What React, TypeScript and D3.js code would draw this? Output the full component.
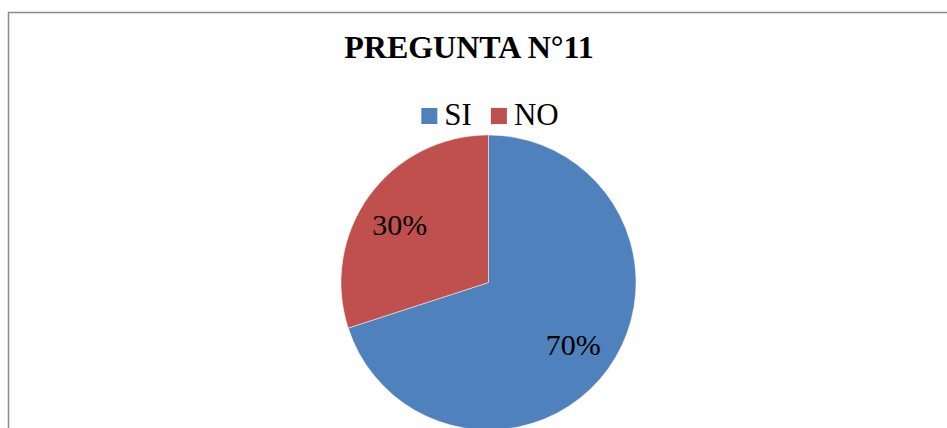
import React from "react";
import * as d3 from "d3";

// chart data
const categories = ["SI", "NO"];
const values = [70, 30];
const colors = ["#4F81BD", "#C0504D"];
const title = "PREGUNTA N°11";

const width = 947;
const height = 428;

export default function App() {
  const ref = React.useRef<SVGSVGElement>(null);

  React.useEffect(() => {
    const svg = d3.select(ref.current);
    svg.selectAll("*").remove();

    // chart frame (only top and left visible in the crop)
    svg.append("rect")
      .attr("x", 8.5)
      .attr("y", 12.5)
      .attr("width", 1000)
      .attr("height", 600)
      .attr("fill", "white")
      .attr("stroke", "#8c8c8c")
      .attr("stroke-width", 1.5);

    svg.append("text")
      .attr("x", 469)
      .attr("y", 58)
      .attr("text-anchor", "middle")
      .style("font-family", "'Liberation Serif', 'Times New Roman', serif")
      .style("font-weight", "bold")
      .style("font-size", "32px")
      .text(title);

    // legend, centred over the pie
    const legend = svg.append("g");
    let x = 0;
    categories.forEach((c, i) => {
      const item = legend.append("g").attr("transform", `translate(${x},0)`);
      item.append("rect")
        .attr("x", 0).attr("y", -17)
        .attr("width", 16).attr("height", 16)
        .attr("fill", colors[i]);
      const t = item.append("text")
        .attr("x", 23)
        .attr("y", 0)
        .style("font-family", "'Liberation Serif', 'Times New Roman', serif")
        .style("font-size", "31px")
        .text(c);
      const w = (t.node() as SVGTextElement).getComputedTextLength();
      x += 23 + w + 19;
    });
    const legendW = x - 19;
    legend.attr("transform", `translate(${490 - legendW / 2},125)`);

    // pie
    const cx = 488.5, cy = 282.5, r = 147.5;
    const pie = d3.pie<number>().sort(null).value(d => d);
    const arcs = pie(values);
    const arc = d3.arc<d3.PieArcDatum<number>>().innerRadius(0).outerRadius(r);
    const labelArc = d3.arc<d3.PieArcDatum<number>>().innerRadius(r * 0.71).outerRadius(r * 0.71);
    const total = d3.sum(values);

    const g = svg.append("g").attr("transform", `translate(${cx},${cy})`);
    g.selectAll("path")
      .data(arcs)
      .join("path")
      .attr("d", arc)
      .attr("fill", (d, i) => colors[i])
      .attr("stroke", "white")
      .attr("stroke-opacity", 0.6)
      .attr("stroke-width", 0.8);

    g.selectAll("text.lbl")
      .data(arcs)
      .join("text")
      .attr("class", "lbl")
      .attr("transform", d => {
        const [lx, ly] = labelArc.centroid(d);
        // Excel nudges the small slice label a little outward/down
        return d.index === 1 ? `translate(${lx - 4},${ly + 4})` : `translate(${lx},${ly})`;
      })
      .attr("text-anchor", "middle")
      .attr("dy", "0.35em")
      .style("font-family", "'Liberation Serif', 'Times New Roman', serif")
      .style("font-size", "30px")
      .text(d => `${Math.round((d.data / total) * 100)}%`);
  }, []);

  return (
    <svg ref={ref} width={width} height={height}
         style={{position: "absolute", left: 0, top: 0, background: "white"}}/>
  );
}
